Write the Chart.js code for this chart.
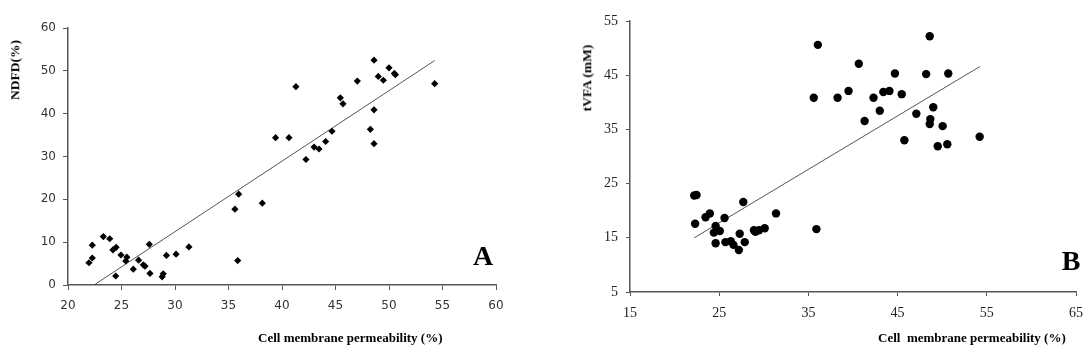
<!DOCTYPE html>
<html>
<head>
<meta charset="utf-8">
<script src="https://cdn.jsdelivr.net/npm/chart.js@4"></script>
<style>
  html, body { margin:0; padding:0; background:#fff; }
  #wrap { position:relative; width:1092px; height:353px; overflow:hidden; background:#fff; }
  .cv { position:absolute; top:0; width:546px; height:353px; }
  .t { position:absolute; font-family:"Liberation Serif","Times New Roman",serif; font-weight:bold; color:#000; white-space:pre; line-height:1; }
  .rot { transform:translate(-50%,-50%) rotate(-90deg); }
  .ctr { transform:translate(-50%,-50%); }
  .lft { transform:translate(0,-50%); }
</style>
</head>
<body>
<div id="wrap">
  <div class="cv" style="left:0"><canvas id="cA" width="546" height="353"></canvas></div>
  <div class="cv" style="left:546px"><canvas id="cB" width="546" height="353"></canvas></div>
  <div class="t rot" style="left:15px; top:70px; font-size:13.5px;">NDFD(%)</div>
  <div class="t lft" style="left:258px; top:337px; font-size:13px;">Cell membrane permeability (%)</div>
  <div class="t ctr" style="left:483px; top:256px; font-size:28px;">A</div>
  <div class="t rot" style="left:587px; top:78px; font-size:13.5px;">tVFA (mM)</div>
  <div class="t lft" style="left:878px; top:337px; font-size:13px;">Cell  membrane permeability (%)</div>
  <div class="t ctr" style="left:1071px; top:261px; font-size:28px;">B</div>
</div>
<script>
// Panel A: NDFD vs cell membrane permeability
const aX = [21.96,22.27,22.27,23.3,23.9,24.2,24.5,24.46,24.95,25.5,25.4,26.1,26.6,27.04,27.2,27.6,27.66,28.8,28.9,29.2,30.1,31.3,35.6,35.95,35.86,38.16,39.4,40.65,41.3,42.24,43.0,43.46,44.08,44.67,45.45,45.7,47.04,48.26,48.6,48.6,48.6,49.0,49.47,50.0,50.5,50.6,54.27];
const aY = [5.2,6.3,9.3,11.3,10.8,8.2,8.8,2.1,7.0,6.5,5.6,3.7,5.8,4.7,4.4,9.5,2.7,1.9,2.6,6.9,7.2,8.9,17.7,21.2,5.7,19.1,34.4,34.4,46.3,29.3,32.2,31.75,33.5,35.9,43.7,42.3,47.6,36.35,40.9,33.0,52.5,48.7,47.8,50.7,49.4,49.1,47.0];
const trendAX = [22.43, 54.27];
const trendAY = [0, 52.4];
const aXTicks = [20,25,30,35,40,45,50,55,60];
const aYTicks = [0,10,20,30,40,50,60];

// Panel B: tVFA vs cell membrane permeability
const bX = [22.2,22.46,22.3,23.47,23.95,24.6,24.4,25.07,24.6,25.6,25.7,26.3,26.6,27.2,27.3,27.7,27.86,28.9,29.06,29.46,30.1,31.37,35.9,36.06,35.6,38.27,39.5,40.65,41.3,42.3,43.0,43.4,44.08,44.7,45.46,45.76,47.1,48.2,48.6,48.67,48.6,49.0,50.05,49.5,50.57,50.68,54.2];
const bY = [22.8,22.9,17.6,18.8,19.5,17.2,15.95,16.25,14.0,18.65,14.2,14.35,13.7,12.75,15.75,21.6,14.2,16.4,16.1,16.4,16.75,19.5,16.6,50.6,40.85,40.85,42.1,47.1,36.55,40.85,38.45,41.9,42.1,45.3,41.5,33.0,37.9,45.2,52.2,36.9,36.0,39.1,35.6,31.9,32.25,45.3,33.65];
const trendBX = [22.2, 54.23];
const trendBY = [15.0, 46.6];
const bXTicks = [15,25,35,45,55,65];
const bYTicks = [5,15,25,35,45,55];

const zip = (xs, ys) => xs.map((x, i) => ({x, y: ys[i]}));
const sansFont = {family: '"DejaVu Sans",Verdana,sans-serif', size: 12};
const serifFont = {family: '"Liberation Serif","Times New Roman",serif', size: 14};

function makeChart(id, cfg) {
  const xTicksArr = cfg.xTicks, yTicksArr = cfg.yTicks;
  return new Chart(document.getElementById(id), {
    type: 'scatter',
    data: {
      datasets: [
        {
          type: 'line',
          data: zip(cfg.tX, cfg.tY),
          borderColor: '#555',
          borderWidth: 1,
          pointRadius: 0,
          fill: false,
          tension: 0,
          order: 2
        },
        {
          data: zip(cfg.x, cfg.y),
          pointStyle: cfg.style,
          pointRadius: cfg.radius,
          backgroundColor: '#000',
          borderColor: '#000',
          borderWidth: 0,
          order: 1
        }
      ]
    },
    options: {
      responsive: false,
      animation: false,
      clip: false,
      layout: {padding: cfg.pad},
      plugins: {legend: {display: false}, tooltip: {enabled: false}},
      scales: {
        x: {
          type: 'linear',
          min: xTicksArr[0], max: xTicksArr[xTicksArr.length - 1],
          afterBuildTicks: s => { s.ticks = xTicksArr.map(v => ({value: v})); },
          afterFit: s => { s.height = cfg.xH; },
          grid: {drawOnChartArea: false, drawTicks: true, tickLength: cfg.xTickLen, color: '#555', lineWidth: 1},
          border: {display: true, color: '#555', width: 1.5},
          ticks: {color: cfg.tickColor, font: cfg.font, padding: cfg.xPad, maxRotation: 0, autoSkip: false}
        },
        y: {
          type: 'linear',
          min: yTicksArr[0], max: yTicksArr[yTicksArr.length - 1],
          afterBuildTicks: s => { s.ticks = yTicksArr.map(v => ({value: v})); },
          afterFit: s => { s.width = cfg.yW; },
          grid: {drawOnChartArea: false, drawTicks: true, tickLength: cfg.yTickLen, color: '#555', lineWidth: 1},
          border: {display: true, color: '#555', width: 1.5},
          ticks: {color: cfg.tickColor, font: cfg.font, padding: cfg.yPad, autoSkip: false}
        }
      }
    }
  });
}

makeChart('cA', {
  x: aX, y: aY, tX: trendAX, tY: trendAY, xTicks: aXTicks, yTicks: aYTicks,
  style: 'rectRot', radius: 3.6, font: sansFont, tickColor: '#333',
  pad: {left: 0, right: 50, top: 28, bottom: 0},
  yW: 68, xH: 68, xTickLen: 5, yTickLen: 5, xPad: 9, yPad: 7
});

makeChart('cB', {
  x: bX, y: bY, tX: trendBX, tY: trendBY, xTicks: bXTicks, yTicks: bYTicks,
  style: 'circle', radius: 4.2, font: serifFont, tickColor: '#222',
  pad: {left: 0, right: 15, top: 21, bottom: 0},
  yW: 84, xH: 61, xTickLen: 4, yTickLen: 4, xPad: 9, yPad: 8
});
</script>
</body>
</html>
